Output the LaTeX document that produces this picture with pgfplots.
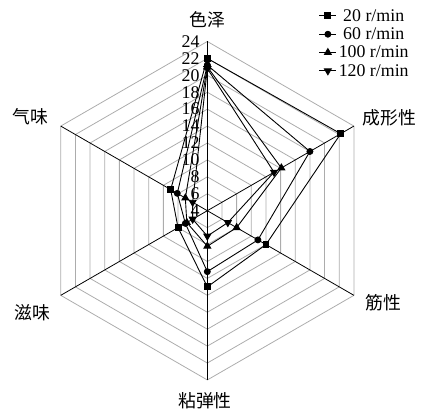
\documentclass[border=0pt]{standalone}
\usepackage{fontspec}
\setmainfont{Liberation Serif}
\newfontfamily\cjk{Noto Sans CJK SC}
\usepackage{pgfplots}
\usepackage{pgfplotstable}
\pgfplotsset{compat=1.18}

% values per axis; angle in degrees, last row repeats the first to close the polygon
\pgfplotstableread{
ang  s20  s60  s100 s120
90   22.0 21.2 21.0 20.8
30   22.2 18.0 14.1 13.1
-30  12.0 10.9 8.0  6.8
-90  13.0 11.2 8.2  7.0
-150 8.0  7.0  6.8  6.0
150  9.0  8.1  7.0  6.0
90   22.0 21.2 21.0 20.8
}\radar

\newcommand{\fs}{\fontsize{18}{20}\selectfont}

\begin{document}
\begin{tikzpicture}
\begin{axis}[
    scale only axis,
    width=14.925cm, height=14.55cm,
    xmin=-24.5, xmax=25.25,
    ymin=-23.6, ymax=24.9,
    hide axis,
    clip=false,
    legend style={at={(axis cs:24.4,24.3)}, anchor=north east,
        draw=none, fill=none, font=\fs, row sep=1pt},
]
\coordinate (bl) at (rel axis cs:0,0);
\coordinate (tr) at (rel axis cs:1,1);

% hexagonal grid rings
\pgfplotsinvokeforeach{2,4,...,20}{
  \draw[gray!65, line width=0.8pt]
    ({#1*cos(90)},{#1*sin(90)}) -- ({#1*cos(30)},{#1*sin(30)}) --
    ({#1*cos(-30)},{#1*sin(-30)}) -- ({#1*cos(-90)},{#1*sin(-90)}) --
    ({#1*cos(-150)},{#1*sin(-150)}) -- ({#1*cos(150)},{#1*sin(150)}) -- cycle;
}
% spokes
\pgfplotsinvokeforeach{90,30,-30,-90,-150,150}{
  \draw[black, line width=0.8pt] (0,0) -- ({20*cos(#1)},{20*sin(#1)});
}
% scale labels
\pgfplotsinvokeforeach{4,6,...,24}{
  \node[anchor=east, inner sep=0pt, font=\fs] at ({-0.9},{#1-4}) {#1};
}
% category labels
\node[font=\cjk\fs] at (0,22.6) {色泽};
\node[font=\cjk\fs] at (21.5,10.95) {成形性};
\node[font=\cjk\fs] at (20.8,-10.9) {筋性};
\node[font=\cjk\fs] at (-0.27,-22.5) {粘弹性};
\node[font=\cjk\fs] at (-20.7,-12.1) {滋味};
\node[font=\cjk\fs] at (-20.95,11.1) {气味};

\addplot[black, line width=0.9pt, mark=square*, mark size=3pt]
  table[x expr={(\thisrow{s20}-4)*cos(\thisrow{ang})},
        y expr={(\thisrow{s20}-4)*sin(\thisrow{ang})}] {\radar};
\addplot[black, line width=0.9pt, mark=*, mark size=3pt]
  table[x expr={(\thisrow{s60}-4)*cos(\thisrow{ang})},
        y expr={(\thisrow{s60}-4)*sin(\thisrow{ang})}] {\radar};
\addplot[black, line width=0.9pt, mark=triangle*, mark size=4pt]
  table[x expr={(\thisrow{s100}-4)*cos(\thisrow{ang})},
        y expr={(\thisrow{s100}-4)*sin(\thisrow{ang})}] {\radar};
\addplot[black, line width=0.9pt, mark=triangle*, mark size=4pt,
         mark options={rotate=180}]
  table[x expr={(\thisrow{s120}-4)*cos(\thisrow{ang})},
        y expr={(\thisrow{s120}-4)*sin(\thisrow{ang})}] {\radar};
\legend{20 r/min, 60 r/min, 100 r/min, 120 r/min}
\end{axis}
\pgfresetboundingbox
\path (bl) rectangle (tr);
\end{tikzpicture}
\end{document}
